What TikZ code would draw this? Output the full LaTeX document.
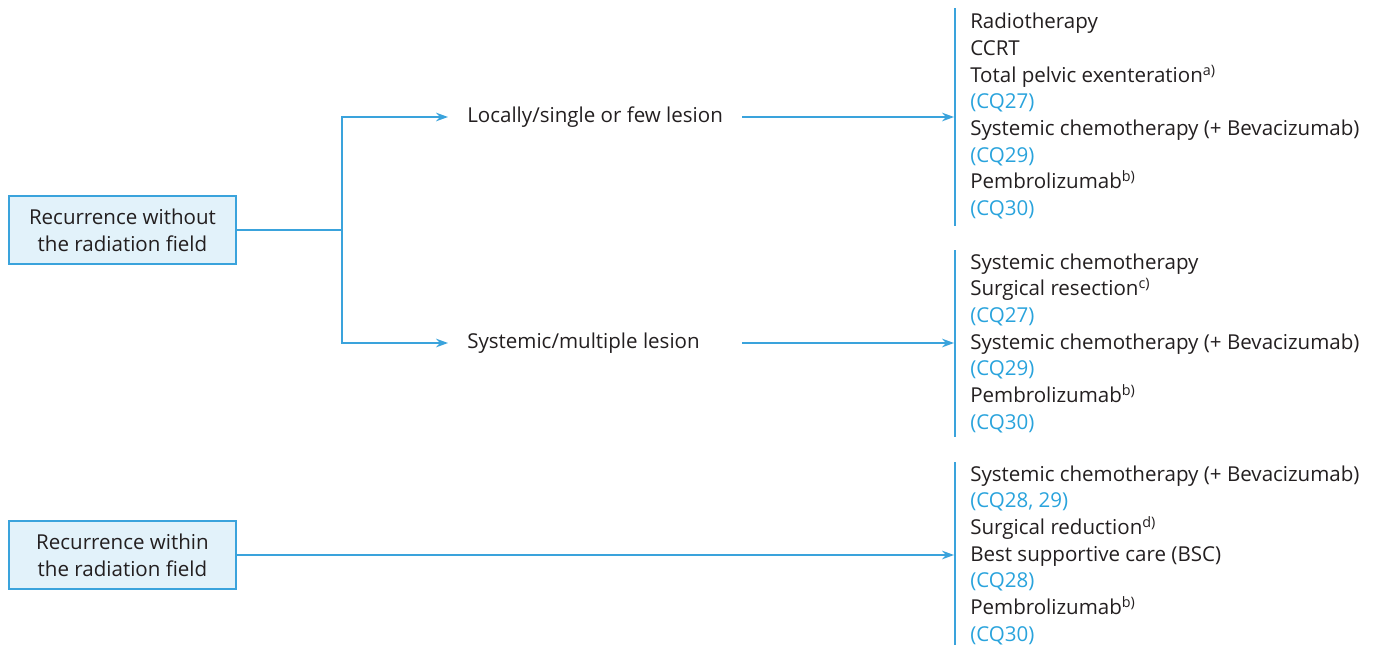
\documentclass[tikz,border=0pt]{standalone}
\usepackage{fontspec}
\setmainfont{Open Sans}
\usetikzlibrary{arrows.meta}
\definecolor{lineblue}{HTML}{3AA3DC}
\definecolor{cqblue}{HTML}{29A3DC}
\definecolor{boxfill}{HTML}{E2F2FA}
\definecolor{txt}{HTML}{231F20}
\newcommand{\cq}[1]{\textcolor{cqblue}{#1}}
\begin{document}
\begin{tikzpicture}[x=0.75pt,y=-0.75pt,
  every node/.style={text=txt,font=\fontsize{15.4}{20}\selectfont},
  rbox/.style={draw=lineblue,fill=boxfill,line width=1.2pt,minimum width=227*0.75pt,minimum height=68*0.75pt,align=center,inner sep=0pt},
  conn/.style={draw=lineblue,line width=0.9pt},
  arr/.style={conn,-{Stealth[length=9pt,width=6.5pt]}},
  bar/.style={draw=lineblue,line width=2.2pt},
  lbl/.style={anchor=west,inner sep=0pt},
  grp/.style={anchor=west,align=left,inner sep=0pt}]
\useasboundingbox (0,0) rectangle (1377,646);
% left boxes
\node[rbox] (r1) at (122.5,230) {Recurrence without\\the radiation field};
\node[rbox] (r2) at (122.5,555) {Recurrence within\\the radiation field};
% middle labels
\node[lbl] (m1) at (467,117) {Locally/single or few lesion};
\node[lbl] (m2) at (467,343) {Systemic/multiple lesion};
% branch
\coordinate (j) at (342,230);
\coordinate (a1) at (448,117);
\coordinate (a2) at (448,343);
\draw[conn] (r1.east) -- (j);
\draw[arr] (j) |- (a1);
\draw[arr] (j) |- (a2);
% bars
\coordinate (b1t) at (955,8);   \coordinate (b1b) at (955,226);
\coordinate (b2t) at (955,250); \coordinate (b2b) at (955,437);
\coordinate (b3t) at (955,462); \coordinate (b3b) at (955,645);
\draw[bar] (b1t) -- (b1b);
\draw[bar] (b2t) -- (b2b);
\draw[bar] (b3t) -- (b3b);
\coordinate (e1) at (954,117);
\coordinate (e2) at (954,343);
\coordinate (e3) at (954,555);
\coordinate (s1) at (742,117);
\coordinate (s2) at (742,343);
\draw[arr] (s1) -- (e1);
\draw[arr] (s2) -- (e2);
\draw[arr] (r2.east) -- (e3);
% right groups
\node[grp] (g1) at (970,116) {Radiotherapy\\CCRT\\Total pelvic exenteration\textsuperscript{a)}\\\cq{(CQ27)}\\Systemic chemotherapy (+ Bevacizumab)\\\cq{(CQ29)}\\Pembrolizumab\textsuperscript{b)}\\\cq{(CQ30)}};
\node[grp] (g2) at (970,343) {Systemic chemotherapy\\Surgical resection\textsuperscript{c)}\\\cq{(CQ27)}\\Systemic chemotherapy (+ Bevacizumab)\\\cq{(CQ29)}\\Pembrolizumab\textsuperscript{b)}\\\cq{(CQ30)}};
\node[grp] (g3) at (970,555) {Systemic chemotherapy (+ Bevacizumab)\\\cq{(CQ28, 29)}\\Surgical reduction\textsuperscript{d)}\\Best supportive care (BSC)\\\cq{(CQ28)}\\Pembrolizumab\textsuperscript{b)}\\\cq{(CQ30)}};
\end{tikzpicture}
\end{document}
